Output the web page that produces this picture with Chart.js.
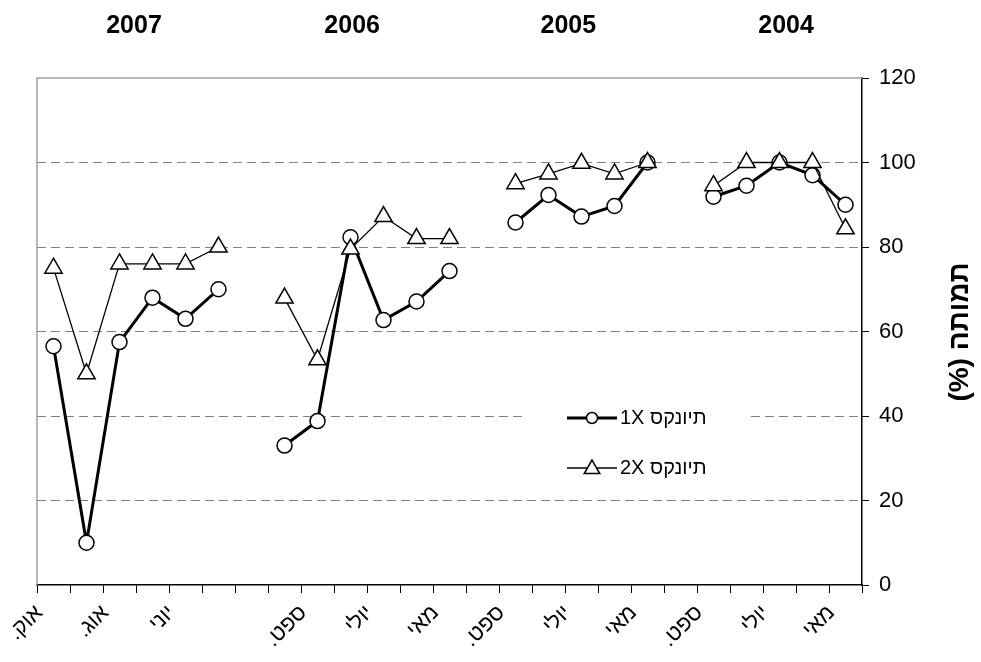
<!DOCTYPE html>
<html><head><meta charset="utf-8">
<script src="https://cdn.jsdelivr.net/npm/chart.js@4.4.1/dist/chart.umd.min.js"></script>
<style>html,body{margin:0;padding:0;background:#fff}</style>
</head><body>
<canvas id="c" width="981" height="662" dir="rtl"></canvas>
<script>
// ---- data (left-to-right display order, RTL chart) ----
const categories = ['אוק.','ספט.','אוג.','יולי','יוני','מאי','',
                    'אוק.','ספט.','אוג.','יולי','יוני','מאי','',
                    'ספט.','אוג.','יולי','יוני','מאי','',
                    'ספט.','אוג.','יולי','יוני','מאי'];
const seriesNames = ['תיונקס 1X','תיונקס 2X'];
const thionex1X = [56.5,10,57.5,68,63,70,null,
                   33,38.8,82.3,62.7,67.1,74.3,null,
                   85.8,92.3,87.2,89.7,100,null,
                   91.9,94.5,100,97,90];
const thionex2X = [75,50,76,76,76,80,null,
                   67.9,53.3,79.5,87.2,82,82,null,
                   95,97.3,99.8,97.3,100,null,
                   94.5,100,100,100,84.3];
const yearLabels = ['2007','2006','2005','2004'];
const yMin = 0, yMax = 120, yStep = 20;
const yTitle = 'תמותה (%)';

const FONT = "'Liberation Sans', Arial, 'DejaVu Sans', sans-serif";

const decor = {
  id: 'decor',
  beforeDatasetsDraw(chart) {
    const {ctx, chartArea: a} = chart;
    ctx.save();
    ctx.strokeStyle = '#a0a0a0';
    ctx.lineWidth = 1.5;
    ctx.beginPath();
    ctx.moveTo(a.left, a.bottom);
    ctx.lineTo(a.left, a.top);
    ctx.lineTo(a.right, a.top);
    ctx.stroke();
    // legend backdrop
    ctx.fillStyle = '#fff';
    ctx.fillRect(523, 386, 223, 104);
    ctx.restore();
  },
  afterDatasetsDraw(chart) {
    const {ctx, scales} = chart;
    ctx.save();
    ctx.direction = 'rtl';
    // legend
    const rows = [
      {y: 418, lw: 3, style: 'circle'},
      {y: 468, lw: 1.3, style: 'triangle'}
    ];
    rows.forEach((r, i) => {
      ctx.strokeStyle = '#000';
      ctx.lineWidth = r.lw;
      ctx.beginPath(); ctx.moveTo(567, r.y); ctx.lineTo(617, r.y); ctx.stroke();
      ctx.lineWidth = 1.5;
      ctx.fillStyle = '#fff';
      ctx.beginPath();
      if (r.style === 'circle') {
        ctx.arc(592, r.y, 5.5, 0, Math.PI * 2);
      } else {
        const R = 9, cx = 592, cy = r.y + 1;
        ctx.moveTo(cx, cy - R);
        ctx.lineTo(cx + R * Math.sin(2 * Math.PI / 3), cy - R * Math.cos(2 * Math.PI / 3));
        ctx.lineTo(cx + R * Math.sin(4 * Math.PI / 3), cy - R * Math.cos(4 * Math.PI / 3));
        ctx.closePath();
      }
      ctx.fill(); ctx.stroke();
      ctx.fillStyle = '#000';
      ctx.font = '20px ' + FONT;
      ctx.textAlign = 'left';
      ctx.textBaseline = 'middle';
      ctx.fillText(seriesNames[i], 620, r.y);
    });
    // year labels
    const yearPos = [2.44, 9.05, 15.6, 22.2];
    ctx.font = 'bold 25px ' + FONT;
    ctx.textAlign = 'center';
    ctx.textBaseline = 'middle';
    yearLabels.forEach((t, i) => {
      ctx.fillText(t, scales.x.getPixelForValue(yearPos[i]), 26);
    });
    // y axis title
    ctx.translate(960, 332);
    ctx.rotate(-Math.PI / 2);
    ctx.font = 'bold 28px ' + FONT;
    ctx.fillText(yTitle, 0, 0);
    ctx.restore();
  }
};

new Chart(document.getElementById('c'), {
  type: 'line',
  data: {
    labels: categories,
    datasets: [
      {
        label: seriesNames[0], data: thionex1X, order: 2,
        borderColor: '#000', borderWidth: 3, tension: 0, spanGaps: false,
        pointStyle: 'circle', pointRadius: 7.5, pointBorderWidth: 1.5,
        pointBackgroundColor: '#fff', pointBorderColor: '#000'
      },
      {
        label: seriesNames[1], data: thionex2X, order: 1,
        borderColor: '#000', borderWidth: 1.3, tension: 0, spanGaps: false,
        pointStyle: 'triangle', pointRadius: 10, pointBorderWidth: 1.5,
        pointBackgroundColor: '#fff', pointBorderColor: '#000'
      }
    ]
  },
  options: {
    responsive: false,
    animation: false,
    devicePixelRatio: 1,
    layout: {padding: {left: 37, top: 78, right: 0, bottom: 0}},
    plugins: {legend: {display: false}, tooltip: {enabled: false}},
    scales: {
      x: {
        type: 'category', offset: true,
        grid: {offset: true, drawOnChartArea: false, drawTicks: true, tickLength: 8, tickColor: '#000', tickWidth: 1},
        border: {color: '#000', width: 1.5},
        ticks: {
          autoSkip: false, minRotation: 45, maxRotation: 45,
          font: {family: FONT, size: 22}, color: '#000',
          padding: 7, labelOffset: -14,
          callback: (v, i) => (i % 2 === 0 ? categories[i] : '')
        },
        afterFit: s => { s.height = 77; s.paddingLeft = 0; s.paddingRight = 0; }
      },
      y: {
        position: 'right', min: yMin, max: yMax,
        grid: {
          color: c => (c.tick && (c.tick.value === yMin || c.tick.value === yMax)) ? 'rgba(0,0,0,0)' : '#808080',
          lineWidth: 1, tickLength: 7, tickColor: '#000', tickWidth: 1, tickBorderDash: []
        },
        border: {color: '#000', width: 1.5, dash: [9, 5]},
        ticks: {stepSize: yStep, font: {family: FONT, size: 22}, color: '#000', padding: 10},
        afterFit: s => { s.width = 119; s.paddingTop = 0; s.paddingBottom = 0; }
      }
    }
  },
  plugins: [decor]
});
</script>
</body></html>
